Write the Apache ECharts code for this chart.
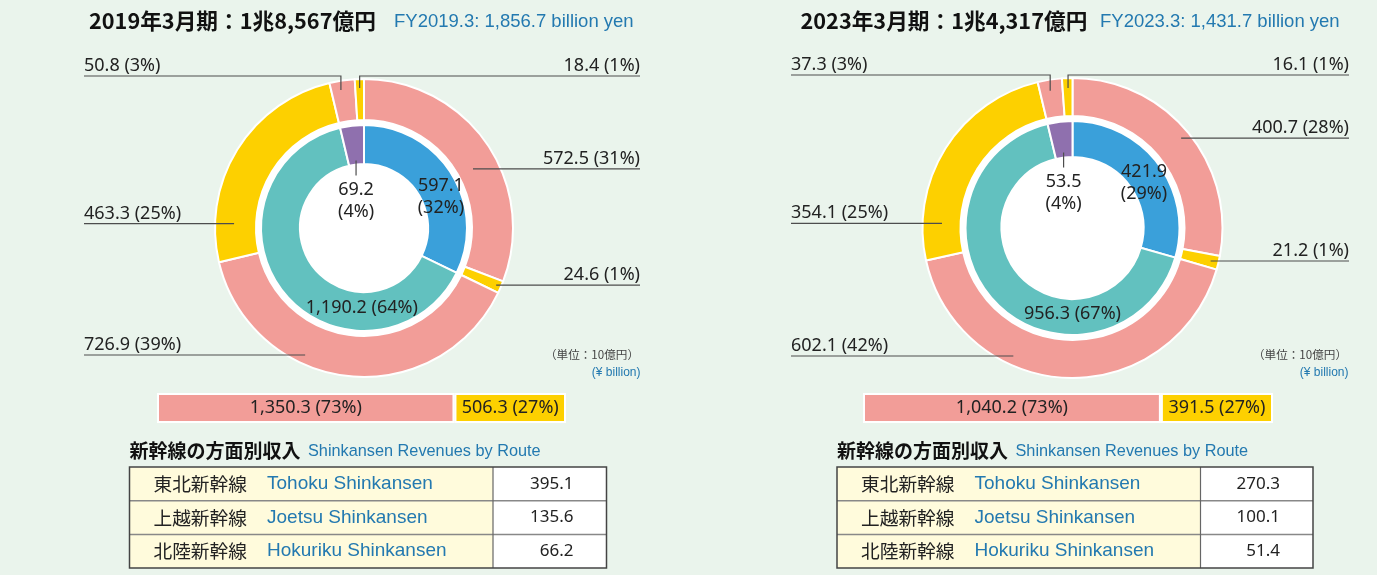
<!DOCTYPE html>
<html><head><meta charset="utf-8">
<script src="https://cdn.jsdelivr.net/npm/echarts@6/dist/echarts.min.js"></script>
<style>html,body{margin:0;padding:0;background:#eaf4ec;}#c{width:1377px;height:575px;}</style>
</head><body><div id="c"></div>
<script>
// ---------------- DATA ----------------
const titleJP = ['2019年3月期：1兆8,567億円', '2023年3月期：1兆4,317億円'];
const titleEN = ['FY2019.3: 1,856.7 billion yen', 'FY2023.3: 1,431.7 billion yen'];
const innerCategories = ['新幹線', '在来線（関東圏）', '在来線（その他）'];
const inner2019 = [597.1, 1190.2, 69.2];
const inner2023 = [421.9, 956.3, 53.5];
const outerCategories = ['新幹線 定期外', '新幹線 定期', '関東圏 定期外', '関東圏 定期', 'その他 定期外', 'その他 定期'];
const outer2019 = [572.5, 24.6, 726.9, 463.3, 50.8, 18.4];
const outer2023 = [400.7, 21.2, 602.1, 354.1, 37.3, 16.1];
const ticketCategories = ['定期外', '定期'];
const ticket2019 = [1350.3, 506.3];
const ticket2023 = [1040.2, 391.5];
const routeJP = ['東北新幹線', '上越新幹線', '北陸新幹線'];
const routeEN = ['Tohoku Shinkansen', 'Joetsu Shinkansen', 'Hokuriku Shinkansen'];
const route2019 = [395.1, 135.6, 66.2];
const route2023 = [270.3, 100.1, 51.4];
const unitJP = '（単位：10億円）';
const unitEN = '(¥ billion)';
const tableTitleJP = '新幹線の方面別収入';
const tableTitleEN = 'Shinkansen Revenues by Route';

// ---------------- STYLE / LAYOUT ----------------
const C = {
  bg: '#eaf4ec', pink: '#f29d98', yellow: '#fdd000', blue: '#3aa0da', teal: '#62c1bf',
  purple: '#8f70ae', text: '#222', en: '#2379b0', line: '#4d4d4d', cream: '#fffbdc'
};
const innerColors = [C.blue, C.teal, C.purple];
const outerColors = [C.pink, C.yellow, C.pink, C.yellow, C.pink, C.yellow];
const NUMFONT = 'Noto Sans';
const JPFONT = '"Noto Sans CJK JP"';
const ENFONT = '"Liberation Sans"';
const CLEAR = 'rgba(0,0,0,0)';

const PANELS = [
  { inner: inner2019, outer: outer2019, ticket: ticket2019, route: route2019,
    cx: 364, cy: 228, hole: 64, inR: 103, ring0: 108, ring: 149, edgeL: 84, edgeR: 640,
    titleX: 89, subX: 394, unitR: 639, barLeft: 157, barWidth: 409, tableX: 129.5, tableW: 477,
    innerSpec: [{ da: 10, r: 83, lines: 2 }, { da: -49.6, r: 80, lines: 1 }, { da: 0, r: 68, drop: 15, lines: 2 }],
    outerSpec: [{ da: 6, r: 124, side: 'R' }, { da: 0, r: 144, side: 'R' }, { da: 18.6, r: 140, side: 'L' },
                { da: -29.7, r: 130, side: 'L' }, { da: -1, r: 140, side: 'L', top: true }, { da: 0, r: 140, side: 'R', top: true }] },
  { inner: inner2023, outer: outer2023, ticket: ticket2023, route: route2023,
    cx: 1072.5, cy: 228, hole: 71, inR: 107, ring0: 112, ring: 150, edgeL: 791, edgeR: 1349,
    titleX: 800.5, subX: 1100, unitR: 1347, barLeft: 863, barWidth: 410, tableX: 837, tableW: 476,
    innerSpec: [{ da: 4.8, r: 84.5, lines: 2 }, { da: -46.3, r: 86, lines: 1 }, { da: 0, r: 76, drop: 15, lines: 2 }],
    outerSpec: [{ da: 0, r: 141, side: 'R' }, { da: 0, r: 142, side: 'R' }, { da: 23, r: 141, side: 'L' },
                { da: -30, r: 130.6, side: 'L' }, { da: -0.5, r: 139, side: 'L', top: true }, { da: 0.2, r: 140, side: 'R', top: true }] }
];

// ---------------- HELPERS ----------------
function fmt(v) {
  const s = v.toFixed(1).split('.');
  return s[0].replace(/\B(?=(\d{3})+(?!\d))/g, ',') + '.' + s[1];
}
const sum = a => a.reduce((x, y) => x + y, 0);
function pct(arr, i) { return Math.round(arr[i] / sum(arr) * 100); }
function midAngle(arr, i) {
  let before = 0; for (let k = 0; k < i; k++) before += arr[k];
  return (before + arr[i] / 2) / sum(arr) * 360;
}
function polar(P, angDeg, r) {
  const a = angDeg * Math.PI / 180;
  return [P.cx + r * Math.sin(a), P.cy - r * Math.cos(a)];
}

function outerLayout(P) {
  return function (p) {
    const i = p.dataIndex, s = P.outerSpec[i];
    const [ax, ay] = polar(P, midAngle(P.outer, i) + s.da, s.r);
    const ly = s.top ? P.cy - P.ring - 3 : ay;
    const left = s.side === 'L';
    const ex = left ? P.edgeL : P.edgeR;
    return { x: ex, y: ly + 1, align: left ? 'left' : 'right', verticalAlign: 'bottom',
             labelLinePoints: [[ax, ay], [ax, ly], [ex, ly]] };
  };
}
function innerLayout(P) {
  return function (p) {
    const i = p.dataIndex, s = P.innerSpec[i];
    const [ax, ay] = polar(P, midAngle(P.inner, i) + s.da, s.r);
    if (s.drop) {
      return { x: ax, y: ay + s.drop + 3, align: 'center', verticalAlign: 'top',
               labelLinePoints: [[ax, ay], [ax, ay + s.drop], [ax, ay + s.drop]] };
    }
    return { x: ax, y: ay, align: 'center', verticalAlign: 'middle' };
  };
}

const labelBase = { color: C.text, fontSize: 18, fontFamily: NUMFONT, lineHeight: 22 };
const lineStyle = { color: C.line, width: 1.2, opacity: 1 };

// ---------------- SERIES ----------------
const series = [];
const grids = [], xAxes = [], yAxes = [];
const graphics = [];

PANELS.forEach((P, k) => {
  // white disc behind the rings
  series.push({
    type: 'pie', silent: true, center: [P.cx, P.cy], radius: [0, P.ring0], z: 1,
    label: { show: false }, labelLine: { show: false },
    data: [{ value: 1, name: 'bg', itemStyle: { color: '#fff' } }]
  });
  // visible rings (no labels)
  [[P.inner, [P.hole, P.inR], innerColors, innerCategories], [P.outer, [P.ring0, P.ring], outerColors, outerCategories]]
    .forEach(([vals, radius, colors, names]) => {
      series.push({
        type: 'pie', silent: true, center: [P.cx, P.cy], radius: radius, startAngle: 90, clockwise: true, z: 2,
        itemStyle: { borderColor: '#fff', borderWidth: 2 },
        label: { show: false }, labelLine: { show: false },
        data: vals.map((v, i) => ({ value: v, name: names[i], itemStyle: { color: colors[i] } }))
      });
    });
  // label layers on top (transparent sectors, same data)
  series.push({
    type: 'pie', silent: true, center: [P.cx, P.cy], radius: [P.hole, P.inR], startAngle: 90, clockwise: true,
    avoidLabelOverlap: false, z: 5,
    itemStyle: { color: CLEAR, borderWidth: 0 },
    label: Object.assign({ show: true, position: 'outside',
      formatter: p => fmt(p.value) + (P.innerSpec[p.dataIndex].lines === 2 ? '\n' : ' ') + '(' + pct(P.inner, p.dataIndex) + '%)' }, labelBase),
    labelLine: { show: true, length: 4, length2: 4, lineStyle: lineStyle },
    labelLayout: innerLayout(P),
    data: P.inner.map((v, i) => ({ value: v, name: innerCategories[i], labelLine: { show: !!P.innerSpec[i].drop } }))
  });
  series.push({
    type: 'pie', silent: true, center: [P.cx, P.cy], radius: [P.ring0, P.ring], startAngle: 90, clockwise: true,
    avoidLabelOverlap: false, z: 5,
    itemStyle: { color: CLEAR, borderWidth: 0 },
    label: Object.assign({ show: true, position: 'outside',
      formatter: p => fmt(p.value) + ' (' + pct(P.outer, p.dataIndex) + '%)' }, labelBase),
    labelLine: { show: true, length: 4, length2: 4, lineStyle: lineStyle },
    labelLayout: outerLayout(P),
    data: P.outer.map((v, i) => ({ value: v, name: outerCategories[i] }))
  });

  // stacked ticket bar
  grids.push({ left: P.barLeft, top: 393, width: P.barWidth, height: 30 });
  xAxes.push({ gridIndex: k, type: 'value', min: 0, max: sum(P.ticket), show: false });
  yAxes.push({ gridIndex: k, type: 'category', data: ['運輸収入'], show: false });
  P.ticket.forEach((v, i) => {
    series.push({
      type: 'bar', xAxisIndex: k, yAxisIndex: k, stack: 'ticket' + k, barWidth: 30, name: ticketCategories[i],
      itemStyle: { color: i === 0 ? C.pink : C.yellow, borderColor: '#fff', borderWidth: 2 },
      label: { show: true, position: 'inside', color: C.text, fontSize: 18, fontFamily: NUMFONT,
               formatter: () => fmt(v) + ' (' + pct(P.ticket, i) + '%)' },
      data: [v]
    });
  });

  // titles
  graphics.push({ type: 'text', silent: true, style: { text: titleJP[k], x: P.titleX, y: 21,
    fill: '#111', fontSize: 21.7, fontWeight: 'bold', fontFamily: JPFONT,
    align: 'left', verticalAlign: 'middle', textAlign: 'left', textVerticalAlign: 'middle' } });
  graphics.push({ type: 'text', silent: true, style: { text: titleEN[k], x: P.subX, y: 22,
    fill: C.en, fontSize: 18.5, fontFamily: ENFONT,
    align: 'left', verticalAlign: 'middle', textAlign: 'left', textVerticalAlign: 'middle' } });
  // unit
  graphics.push({ type: 'text', silent: true, style: { text: unitJP, x: P.unitR, y: 355,
    fill: '#444', fontSize: 11.6, fontFamily: JPFONT,
    align: 'right', verticalAlign: 'middle', textAlign: 'right', textVerticalAlign: 'middle' } });
  graphics.push({ type: 'text', silent: true, style: { text: unitEN, x: P.unitR + 1.5, y: 372.5,
    fill: C.en, fontSize: 12, fontFamily: ENFONT,
    align: 'right', verticalAlign: 'middle', textAlign: 'right', textVerticalAlign: 'middle' } });

  // route table
  const tx = P.tableX, ty = 467, rowH = 33.7, tw = P.tableW, colX = tx + 363.5;
  const th = rowH * routeJP.length;
  graphics.push({ type: 'text', silent: true, style: { text: tableTitleJP, x: tx, y: 451,
    fill: '#111', fontSize: 19, fontWeight: 'bold', fontFamily: JPFONT,
    align: 'left', verticalAlign: 'middle', textAlign: 'left', textVerticalAlign: 'middle' } });
  graphics.push({ type: 'text', silent: true, style: { text: tableTitleEN, x: tx + 178.5, y: 451.5,
    fill: C.en, fontSize: 16.3, fontFamily: ENFONT,
    align: 'left', verticalAlign: 'middle', textAlign: 'left', textVerticalAlign: 'middle' } });
  graphics.push({ type: 'rect', silent: true, shape: { x: tx, y: ty, width: colX - tx, height: th },
    style: { fill: C.cream } });
  graphics.push({ type: 'rect', silent: true, shape: { x: colX, y: ty, width: tx + tw - colX, height: th },
    style: { fill: '#fff' } });
  for (let r = 1; r < routeJP.length; r++) {
    graphics.push({ type: 'line', silent: true, shape: { x1: tx, y1: ty + rowH * r, x2: tx + tw, y2: ty + rowH * r },
      style: { stroke: '#888', lineWidth: 1.5 } });
  }
  graphics.push({ type: 'line', silent: true, shape: { x1: colX, y1: ty, x2: colX, y2: ty + th },
    style: { stroke: '#666', lineWidth: 1.2 } });
  graphics.push({ type: 'rect', silent: true, shape: { x: tx, y: ty, width: tw, height: th },
    style: { fill: 'none', stroke: '#444', lineWidth: 1.5 } });
  routeJP.forEach((name, r) => {
    const yc = ty + rowH * (r + 0.5);
    graphics.push({ type: 'text', silent: true, style: { text: name, x: tx + 24, y: yc,
      fill: C.text, fontSize: 18.7, fontFamily: JPFONT,
      align: 'left', verticalAlign: 'middle', textAlign: 'left', textVerticalAlign: 'middle' } });
    graphics.push({ type: 'text', silent: true, style: { text: routeEN[r], x: tx + 137.5, y: yc,
      fill: C.en, fontSize: 19, fontFamily: ENFONT,
      align: 'left', verticalAlign: 'middle', textAlign: 'left', textVerticalAlign: 'middle' } });
    graphics.push({ type: 'text', silent: true, style: { text: fmt(P.route[r]), x: tx + tw - 33, y: yc,
      fill: C.text, fontSize: 17, fontFamily: NUMFONT,
      align: 'right', verticalAlign: 'middle', textAlign: 'right', textVerticalAlign: 'middle' } });
  });
});

const chart = echarts.init(document.getElementById('c'), null, { renderer: 'canvas' });
chart.setOption({
  backgroundColor: C.bg,
  animation: false,
  grid: grids, xAxis: xAxes, yAxis: yAxes,
  series: series,
  graphic: { elements: graphics }
});
</script></body></html>
